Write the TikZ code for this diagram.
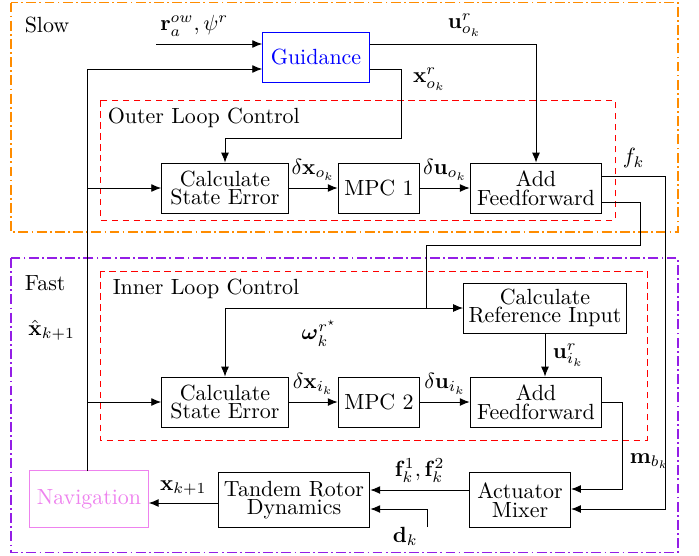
\documentclass[tikz,border=0pt]{standalone}
\usepackage{amsmath,bm}
\usetikzlibrary{calc,positioning,arrows.meta}
\definecolor{slowcol}{RGB}{255,140,0}
\definecolor{fastcol}{RGB}{148,30,230}
\definecolor{navcol}{RGB}{238,130,238}

\begin{document}
\begin{tikzpicture}[>={Latex[length=4.5pt,width=3.6pt]}, x=0.016cm, y=0.016cm,
  block/.style={draw, align=center, minimum height=0.8cm, inner sep=2pt, font=\fontsize{10}{8.5}\selectfont},
  rate/.style={draw=#1, thick, dash pattern=on 4.5pt off 1.5pt on 0.8pt off 1.5pt},
  loopbox/.style={draw=red, dash pattern=on 3pt off 2pt}]
  \useasboundingbox (0,0) rectangle (699,-555);

  % rate groups and loops
  \draw[rate=slowcol] (11,-2.5) rectangle (678,-232);
  \draw[rate=fastcol] (11,-258) rectangle (678,-552.5);
  \draw[loopbox] (100,-100) rectangle (615,-220);
  \draw[loopbox] (100,-271) rectangle (647,-440);
  \node[anchor=west] (slow) at (17,-25) {Slow};
  \node[anchor=west] (fast) at (17,-283) {Fast};
  \node[anchor=west] (outer) at (100,-118) {Outer Loop Control};
  \node[anchor=west] (inner) at (105,-289) {Inner Loop Control};

  % blocks
  \node[block, draw=blue, text=blue, minimum width=1.71cm] (guid) at (316,-57) {Guidance};
  \node[block, minimum width=2.03cm] (cse1) at (225,-188) {Calculate\\State Error};
  \node[block, minimum width=1.31cm] (mpc1) at (379,-188) {MPC 1};
  \node[block, minimum width=2.11cm] (aff1) at (536,-188) {Add\\Feedforward};
  \node[block, minimum width=2.61cm] (cri) at (545,-308) {Calculate\\Reference Input};
  \node[block, minimum width=2.03cm] (cse2) at (225,-402) {Calculate\\State Error};
  \node[block, minimum width=1.31cm] (mpc2) at (379,-402) {MPC 2};
  \node[block, minimum width=2.11cm] (aff2) at (536,-402) {Add\\Feedforward};
  \node[block, minimum width=1.62cm, minimum height=0.88cm] (mix) at (520,-500) {Actuator\\Mixer};
  \node[block, minimum width=2.43cm, minimum height=0.88cm] (trd) at (294,-500) {Tandem Rotor\\Dynamics};
  \node[block, draw=navcol, text=navcol, minimum width=1.9cm, minimum height=0.9cm] (nav) at (89,-499) {Navigation};

  \coordinate (rin) at (156,-44);
  \coordinate (din) at (427,-527);

  % slow loop
  \draw[->] (rin) -- node[above,pos=.36] {$\mathbf{r}_a^{ow},\psi^r$} (guid.west |- rin);
  \draw[->] (guid.east |- rin) -- node[above,pos=.57] {$\mathbf{u}^r_{o_k}$} (aff1.north |- rin) -- (aff1.north);
  \draw[->] (guid.east |- 0,-69) -- (401,-69) -- node[right,pos=.15,xshift=2pt] {$\mathbf{x}^r_{o_k}$} (401,-138) -| (cse1.north);
  \draw[->] (cse1) -- node[above] {$\delta\mathbf{x}_{o_k}$} (mpc1);
  \draw[->] (mpc1) -- node[above] {$\delta\mathbf{u}_{o_k}$} (aff1);
  \draw[->] (aff1.east |- 0,-176) -- node[above] {$f_k$} (665,-176) -- (665,-509) -- (mix.east |- 0,-509);
  \draw (aff1.east |- 0,-202) -- (640,-202) -- (640,-245) -- (426,-245) -- (426,-308);
  \draw[->] (426,-308) -- node[below,pos=.53,yshift=-2pt] {$\bm{\omega}_k^{r^\star}$} (cse2.north |- 0,-308) -- (cse2.north);
  \draw[->] (426,-308) -- (cri.west);

  % fast loop
  \draw[->] (cse2) -- node[above] {$\delta\mathbf{x}_{i_k}$} (mpc2);
  \draw[->] (mpc2) -- node[above] {$\delta\mathbf{u}_{i_k}$} (aff2);
  \draw[->] (cri.south) -- node[right] {$\mathbf{u}^r_{i_k}$} (cri.south |- aff2.north);
  \draw[->] (aff2.east) -- (622,-402) -- node[right,pos=.68] {$\mathbf{m}_{b_k}$} (622,-489) -- (mix.east |- 0,-489);
  \draw[->] (mix.west |- 0,-490) -- node[above] {$\mathbf{f}_k^1,\mathbf{f}_k^2$} (trd.east |- 0,-490);
  \draw[->] (din) node[anchor=north east, inner sep=0pt, xshift=-4pt] {$\mathbf{d}_k$} -- (427,-509) -- (trd.east |- 0,-509);
  \draw[->] (trd.west |- 0,-503) -- node[above] {$\mathbf{x}_{k+1}$} (nav.east |- 0,-503);

  % navigation feedback
  \draw[->] (87,-471) -- node[left,pos=.35,xshift=-2pt] {$\hat{\mathbf{x}}_{k+1}$} (87,-69) -- (guid.west |- 0,-69);
  \draw[->] (87,-188) -- (cse1);
  \draw[->] (87,-402) -- (cse2);
\end{tikzpicture}
\end{document}
